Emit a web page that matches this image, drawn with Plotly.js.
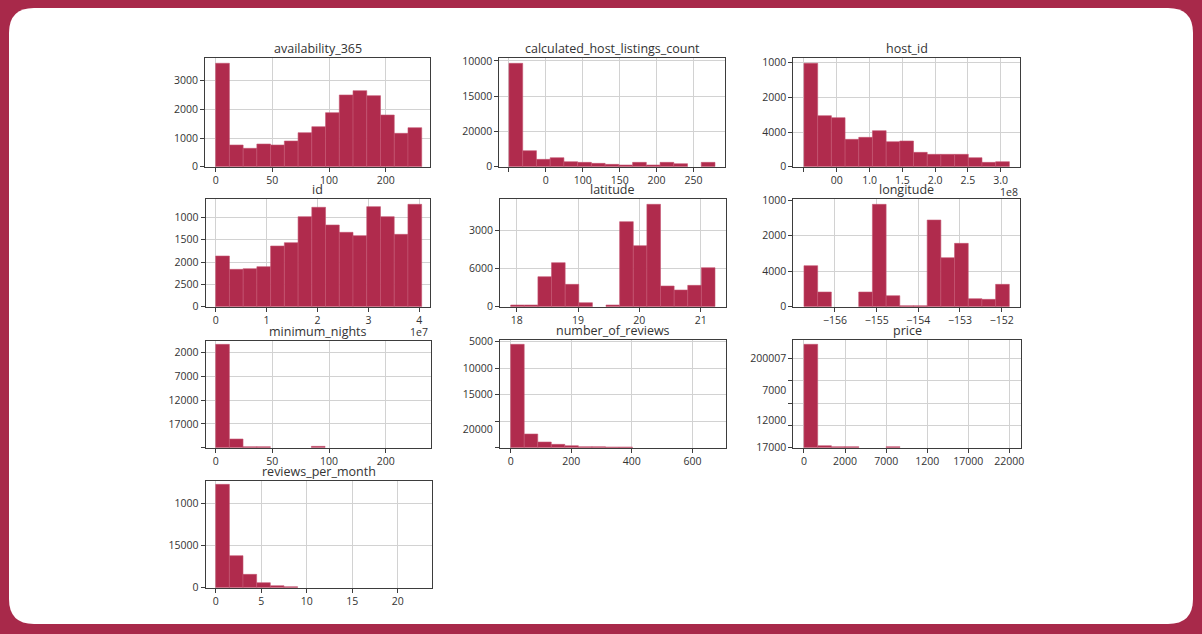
<!DOCTYPE html>
<html><head><meta charset="utf-8">
<script src="https://cdn.plot.ly/plotly-3.0.1.min.js"></script>
<style>html,body{margin:0;padding:0;background:#a8294a;}#chart{width:1202px;height:634px;}</style>
</head><body><div id="chart"></div>
<script>
// ================= DATA =================
const titles = ["availability_365","calculated_host_listings_count","host_id","id","latitude","longitude","minimum_nights","number_of_reviews","price","reviews_per_month"];

// availability_365
const availabilityBinStart = 0, availabilityBinWidth = 12.12;
const availabilityCounts = [3605,756,640,790,756,895,1186,1395,1884,2500,2651,2477,1802,1163,1360];
const availabilityXTicks = [0,50,100,150], availabilityXLabels = ["0","50","100","200"];
const availabilityYTicks = [0,1000,2000,3000], availabilityYLabels = ["0","1000","2000","3000"];

// calculated_host_listings_count
const calcBinStart = 0, calcBinWidth = 18.61;
const calcCounts = [14664,2271,1041,1277,710,615,473,331,237,615,237,615,426,0,615];
const calcXTicks = [0,50,100,150,200,250], calcXLabels = ["","0","100","150","200","250"];
const calcYTicks = [0,5000,10000,15000], calcYLabels = ["0","20000","15000","10000"];

// host_id (x in 1e8)
const hostBinStart = 0, hostBinWidth = 0.2088;
const hostCounts = [5962,2942,2827,1577,1692,2077,1442,1481,827,712,712,712,519,250,288];
const hostXTicks = [0,0.5,1,1.5,2,2.5,3], hostXLabels = ["","00","1.0","1.5","2.0","2.5","3.0"];
const hostYTicks = [0,2000,4000,6000], hostYLabels = ["0","4000","2000","1000"];

// id (x in 1e7)
const idBinStart = 0, idBinWidth = 0.2697;
const idCounts = [1134,836,851,896,1358,1433,2015,2224,1828,1664,1590,2239,2015,1619,2291];
const idXTicks = [0,1,2,3,4], idXLabels = ["0","1","2","3","4"];
const idYTicks = [0,500,1000,1500,2000], idYLabels = ["0","2500","2000","1500","1000"];

// latitude
const latBinStart = 17.902, latBinWidth = 0.2221;
const latCounts = [132,132,2368,3474,1763,316,0,132,6711,4816,8079,1632,1316,1684,3079];
const latXTicks = [18,19,20,21], latXLabels = ["18","19","20","21"];
const latYTicks = [0,3000,6000], latYLabels = ["0","6000","3000"];

// longitude
const lonBinStart = -156.744, lonBinWidth = 0.3285;
const lonCounts = [2306,825,0,0,825,5755,619,56,56,4873,2755,3561,450,412,1256];
const lonXTicks = [-156,-155,-154,-153,-152], lonXLabels = ["\u2212156","\u2212155","\u2212154","\u2212153","\u2212152"];
const lonYTicks = [0,2000,4000,6000], lonYLabels = ["0","4000","2000","1000"];

// minimum_nights
const minBinStart = 0, minBinWidth = 12.06;
const minCounts = [21754,1825,210,210,0,0,0,281,0,0,0,0,0,0,0];
const minXTicks = [0,50,100,150], minXLabels = ["0","50","100","200"];
const minYTicks = [0,5000,10000,15000,20000], minYLabels = ["","17000","12000","7000","2000"];

// number_of_reviews
const revBinStart = 0, revBinWidth = 44.7;
const revCounts = [19497,2579,1069,629,377,189,189,126,126,0,0,0,0,0,0];
const revXTicks = [0,200,400,600], revXLabels = ["0","200","400","600"];
const revYTicks = [0,5000,10000,15000,20000];
const revYLabelVals = [3459,10000,15000,20000], revYLabels = ["20000","15000","10000","5000"];

// price
const priceBinStart = 0, priceBinWidth = 1668;
const priceCounts = [23134,448,224,224,0,0,224,0,0,0,0,0,0,0,0];
const priceXTicks = [0,5000,10000,15000,20000,25000], priceXLabels = ["0","2000","7000","1200","17000","22000"];
const priceYTicks = [0,5000,10000,15000,20000];
const priceYLabelVals = [0,6194,12910,20000], priceYLabels = ["17000","12000","7000","200007"];

// reviews_per_month
const rpmBinStart = 0, rpmBinWidth = 1.5;
const rpmCounts = [12253,3794,1581,593,237,119,0,0,0,0,0,0,0,0,0];
const rpmXTicks = [0,5,10,15,20], rpmXLabels = ["0","5","10","15","20"];
const rpmYTicks = [0,5000,10000], rpmYLabels = ["0","15000","1000"];

// ================= LAYOUT / DRAW =================
const W = 1202, H = 634;
const BAR = "#b02b4d", BAR_EDGE = "#c45470", BORDER = "#a8294a";
const FONT = "Open Sans, DejaVu Sans, sans-serif";

const panels = [
  {bs:availabilityBinStart,bw:availabilityBinWidth,c:availabilityCounts,xt:availabilityXTicks,xl:availabilityXLabels,yt:availabilityYTicks,yl:availabilityYLabels,
   box:[205,430,58.3,166.7],xr:[-9.4,189.1],yr:[0,3779]},
  {bs:calcBinStart,bw:calcBinWidth,c:calcCounts,xt:calcXTicks,xl:calcXLabels,yt:calcYTicks,yl:calcYLabels,
   box:[499.3,725,58.3,166.7],xr:[-13.1,292.7],yr:[0,15378]},
  {bs:hostBinStart,bw:hostBinWidth,c:hostCounts,xt:hostXTicks,xl:hostXLabels,yt:hostYTicks,yl:hostYLabels,
   box:[793.3,1020,58.3,166.7],xr:[-0.163,3.294],yr:[0,6250]},
  {bs:idBinStart,bw:idBinWidth,c:idCounts,xt:idXTicks,xl:idXLabels,yt:idYTicks,yl:idYLabels,
   box:[205.7,430,199,306.7],xr:[-0.196,4.209],yr:[0,2410]},
  {bs:latBinStart,bw:latBinWidth,c:latCounts,xt:latXTicks,xl:latXLabels,yt:latYTicks,yl:latYLabels,
   box:[500,725.7,199,306.7],xr:[17.728,21.408],yr:[0,8500]},
  {bs:lonBinStart,bw:lonBinWidth,c:lonCounts,xt:lonXTicks,xl:lonXLabels,yt:lonYTicks,yl:lonYLabels,
   box:[793.3,1020,199,306.7],xr:[-157.0,-151.56],yr:[0,6056]},
  {bs:minBinStart,bw:minBinWidth,c:minCounts,xt:minXTicks,xl:minXLabels,yt:minYTicks,yl:minYLabels,
   box:[205.7,430.7,340.7,447.7],xr:[-8.82,189.7],yr:[0,22526]},
  {bs:revBinStart,bw:revBinWidth,c:revCounts,xt:revXTicks,xl:revXLabels,yt:revYTicks,ylv:revYLabelVals,yl:revYLabels,
   box:[500,725.7,340,447.7],xr:[-35.2,710],yr:[0,20314]},
  {bs:priceBinStart,bw:priceBinWidth,c:priceCounts,xt:priceXTicks,xl:priceXLabels,yt:priceYTicks,ylv:priceYLabelVals,yl:priceYLabels,
   box:[793.3,1020.7,340,447.7],xr:[-1299,26380],yr:[0,24104]},
  {bs:rpmBinStart,bw:rpmBinWidth,c:rpmCounts,xt:rpmXTicks,xl:rpmXLabels,yt:rpmYTicks,yl:rpmYLabels,
   box:[205.7,431.7,480.7,587.7],xr:[-1.10,23.74],yr:[0,12688]}
];

const axisCommon = {
  showline:true, linecolor:"#3d3d3d", linewidth:1, mirror:true,
  ticks:"outside", ticklen:4, tickwidth:1, tickcolor:"#3d3d3d",
  showgrid:true, gridcolor:"#d2d2d2", gridwidth:1, zeroline:false,
  tickfont:{family:FONT, size:10.5, color:"#333"}, fixedrange:true
};

const traces = [];
const layout = {
  width:W, height:H, margin:{l:0,r:0,t:0,b:0},
  paper_bgcolor:BORDER, plot_bgcolor:"#ffffff",
  showlegend:false, bargap:0, annotations:[], shapes:[]
};

// white rounded card
(function(){
  const L=9,R=1193,T=8,B=624,r=25;
  const X=v=>(v/W).toFixed(5), Y=v=>(1-v/H).toFixed(5);
  const p = `M${X(L+r)},${Y(T)} L${X(R-r)},${Y(T)} Q${X(R)},${Y(T)} ${X(R)},${Y(T+r)} L${X(R)},${Y(B-r)} Q${X(R)},${Y(B)} ${X(R-r)},${Y(B)} L${X(L+r)},${Y(B)} Q${X(L)},${Y(B)} ${X(L)},${Y(B-r)} L${X(L)},${Y(T+r)} Q${X(L)},${Y(T)} ${X(L+r)},${Y(T)} Z`;
  layout.shapes.push({type:"path", xref:"paper", yref:"paper", path:p, fillcolor:"#ffffff", line:{width:0}, layer:"below"});
})();

let extra = 11;
panels.forEach((d,k)=>{
  const i = k+1;
  const xs = d.c.map((_,j)=> d.bs + (j+0.5)*d.bw);
  traces.push({type:"bar", x:xs, y:d.c, width:d.bw, xaxis:"x"+i, yaxis:"y"+i,
    marker:{color:BAR, line:{color:BAR_EDGE, width:d.c.map(v=> v>0 ? 0.6 : 0)}}, hoverinfo:"skip"});
  const [l,r,t,b] = d.box;
  layout["xaxis"+i] = Object.assign({}, axisCommon, {domain:[l/W, r/W], anchor:"y"+i, range:d.xr,
    tickmode:"array", tickvals:d.xt, ticktext:d.xl});
  const ydom = [1-b/H, 1-t/H];
  if (d.ylv) {
    layout["yaxis"+i] = Object.assign({}, axisCommon, {domain:ydom, anchor:"x"+i, range:d.yr,
      tickmode:"array", tickvals:d.yt, showticklabels:false});
    const n = extra++;
    layout["yaxis"+n] = Object.assign({}, axisCommon, {overlaying:"y"+i, anchor:"x"+i, side:"left",
      range:d.yr, showgrid:false, showline:false, ticks:"outside", ticklen:4, tickcolor:"rgba(0,0,0,0)",
      tickmode:"array", tickvals:d.ylv, ticktext:d.yl});
    traces.push({type:"scatter", mode:"markers", x:[], y:[], xaxis:"x"+i, yaxis:"y"+n, hoverinfo:"skip"});
  } else {
    layout["yaxis"+i] = Object.assign({}, axisCommon, {domain:ydom, anchor:"x"+i, range:d.yr,
      tickmode:"array", tickvals:d.yt, ticktext:d.yl});
  }
  layout.annotations.push({text:titles[k], xref:"paper", yref:"paper", x:(l+r)/2/W, y:1-t/H,
    xanchor:"center", yanchor:"bottom", yshift:-1, showarrow:false,
    font:{family:FONT, size:12.5, color:"#333"}});
});

// axis offset texts
layout.annotations.push({text:"1e7", xref:"paper", yref:"paper", x:430/W, y:1-332/H, xanchor:"right", yanchor:"middle",
  showarrow:false, font:{family:FONT, size:10.5, color:"#333"}});
layout.annotations.push({text:"1e8", xref:"paper", yref:"paper", x:1020/W, y:1-192/H, xanchor:"right", yanchor:"middle",
  showarrow:false, font:{family:FONT, size:10.5, color:"#333"}});

Plotly.newPlot("chart", traces, layout, {staticPlot:true, displayModeBar:false});
</script></body></html>
